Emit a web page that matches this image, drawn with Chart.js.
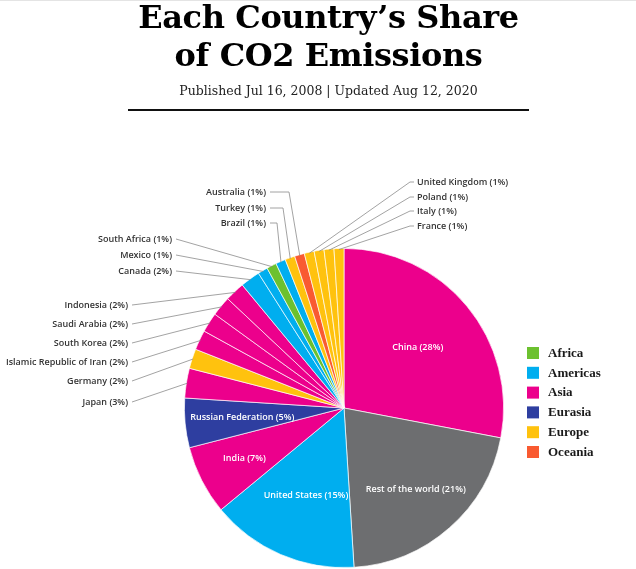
<!DOCTYPE html>
<html><head><meta charset="utf-8">
<script src="https://cdn.jsdelivr.net/npm/chart.js@4"></script>
<style>
html,body{margin:0;padding:0;background:#fff;width:636px;height:569px;overflow:hidden;}
#wrap{position:relative;width:636px;height:569px;}
#topline{position:absolute;left:0;top:0;width:636px;height:1px;background:#e4e4e4}
#title{position:absolute;left:0;width:657px;top:-2px;text-align:center;font-family:"DejaVu Serif";font-weight:bold;font-size:32px;line-height:38px;color:#000;letter-spacing:-0.4px}
#sub{position:absolute;left:0;width:657px;top:83px;text-align:center;font-family:"DejaVu Serif";font-size:12.5px;color:#222}
#rule{position:absolute;left:128px;top:109px;width:401px;height:2px;background:#111}
canvas{position:absolute;left:0;top:0}
</style></head>
<body>
<div id="wrap">
<div id="topline"></div>
<canvas id="c" width="636" height="569"></canvas>
<div id="title">Each Country’s Share<br>of CO2 Emissions</div>
<div id="sub">Published Jul 16, 2008 | Updated Aug 12, 2020</div>
<div id="rule"></div>
</div>
<script>
// ---- data ----
const categories = ['China','Rest of the world','United States','India','Russian Federation','Japan','Germany','Islamic Republic of Iran','South Korea','Saudi Arabia','Indonesia','Canada','Mexico','South Africa','Brazil','Turkey','Australia','United Kingdom','Poland','Italy','France'];
const shares = [28,21,15,7,5,3,2,2,2,2,2,2,1,1,1,1,1,1,1,1,1];
const regions = ['Asia','Other','Americas','Asia','Eurasia','Asia','Europe','Asia','Asia','Asia','Asia','Americas','Americas','Africa','Americas','Europe','Oceania','Europe','Europe','Europe','Europe'];
const legendRegions = ['Africa','Americas','Asia','Eurasia','Europe','Oceania'];

// ---- styles ----
const regionColors = {Africa:'#6cc12f',Americas:'#00aeef',Asia:'#ec008c',Eurasia:'#2e3ea0',Europe:'#ffc20e',Oceania:'#f95a31',Other:'#6d6e70'};
const labelFont = '600 9px "Open Sans"';

// label layout (annotation placement)
const innerLabelRadius = {0:0.6,1:0.68,2:0.6,3:0.7,4:0.64};
const outerLabelLayout = {
  5:{x:128,y:402,align:'right'},
  6:{x:128,y:381,align:'right'},
  7:{x:128,y:362,align:'right'},
  8:{x:128,y:343,align:'right'},
  9:{x:128,y:324,align:'right'},
  10:{x:128,y:305,align:'right'},
  11:{x:172,y:271,align:'right'},
  12:{x:172,y:255,align:'right'},
  13:{x:172,y:239,align:'right'},
  14:{x:266,y:223,align:'right',elbow:277},
  15:{x:266,y:208,align:'right',elbow:283},
  16:{x:266,y:192,align:'right',elbow:289},
  17:{x:417,y:182,align:'left',elbow:410},
  18:{x:417,y:197,align:'left',elbow:410},
  19:{x:417,y:211,align:'left',elbow:410},
  20:{x:417,y:226,align:'left',elbow:410}
};
const legendLayout = {boxX:527,textX:548,y0:353,dy:19.8,box:12};

const labelPlugin = {
  id:'labels',
  afterDatasetsDraw(chart){
    const ctx = chart.ctx;
    const arcs = chart.getDatasetMeta(0).data;
    ctx.save();
    arcs.forEach((arc,i)=>{
      const {x:cx,y:cy,startAngle,endAngle,outerRadius} = arc.getProps(['x','y','startAngle','endAngle','outerRadius'],true);
      const mid = (startAngle+endAngle)/2;
      const text = categories[i]+' ('+shares[i]+'%)';
      if (innerLabelRadius[i]!==undefined){
        const r = outerRadius*innerLabelRadius[i];
        ctx.fillStyle='#fff';
        ctx.font=labelFont;
        ctx.textAlign='center';ctx.textBaseline='middle';
        ctx.fillText(text, cx+Math.cos(mid)*r, cy+Math.sin(mid)*r);
      } else if (outerLabelLayout[i]){
        const L = outerLabelLayout[i];
        const px = cx+Math.cos(mid)*(outerRadius-1), py = cy+Math.sin(mid)*(outerRadius-1);
        ctx.strokeStyle='#8c8c8c';ctx.lineWidth=0.8;
        ctx.beginPath();
        if (L.align==='right'){
          ctx.moveTo(L.x+4,L.y);
        } else {
          ctx.moveTo(L.x-3,L.y);
        }
        if (L.elbow!==undefined) ctx.lineTo(L.elbow,L.y);
        ctx.lineTo(px,py);
        ctx.stroke();
        ctx.fillStyle='#333';
        ctx.font=labelFont;
        ctx.textAlign=L.align;ctx.textBaseline='middle';
        ctx.fillText(text,L.x,L.y);
      }
    });
    // legend
    legendRegions.forEach((reg,k)=>{
      const y = legendLayout.y0 + k*legendLayout.dy;
      ctx.fillStyle = regionColors[reg];
      ctx.fillRect(legendLayout.boxX, y-legendLayout.box/2, legendLayout.box, legendLayout.box);
      ctx.fillStyle='#1a1a1a';
      ctx.font='bold 13px "Liberation Serif"';
      ctx.textAlign='left';ctx.textBaseline='middle';
      ctx.fillText(reg, legendLayout.textX, y+0.5);
    });
    ctx.restore();
  }
};

new Chart(document.getElementById('c'),{
  type:'pie',
  data:{labels:categories,datasets:[{data:shares,backgroundColor:regions.map(r=>regionColors[r]),borderColor:'rgba(255,255,255,0.85)',borderWidth:0.8}]},
  options:{
    responsive:false,animation:false,
    layout:{padding:{left:184,right:132,top:248,bottom:1}},
    plugins:{legend:{display:false},tooltip:{enabled:false}}
  },
  plugins:[labelPlugin]
});
</script>
</body></html>
